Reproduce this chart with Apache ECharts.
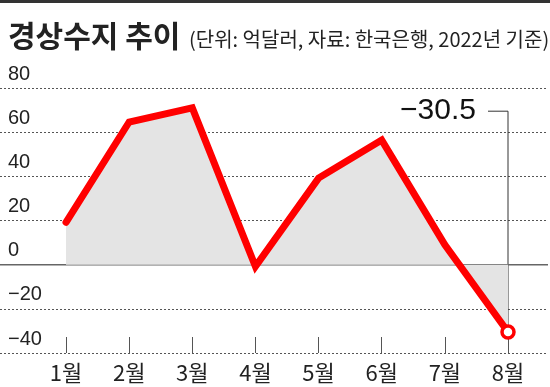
<!DOCTYPE html>
<html>
<head>
<meta charset="utf-8">
<script src="https://cdn.jsdelivr.net/npm/echarts@6/dist/echarts.min.js"></script>
<style>html,body{margin:0;padding:0;background:#fff;}#c{width:550px;height:387px;}</style>
</head>
<body>
<div id="c"></div>
<script>
const categories = ['1월','2월','3월','4월','5월','6월','7월','8월'];
const values = [19.2, 64.6, 71.0, -0.8, 39.2, 56.4, 9.0, -30.5];
const yTicks = [-40, -20, 0, 20, 40, 60, 80];
const annotationText = '−30.5';

const FONT = '"Noto Sans CJK KR", "Noto Sans", sans-serif';
const chart = echarts.init(document.getElementById('c'), null, {renderer: 'canvas'});
const gridTop = 88, gridBottom = 34;

const seriesData = values.map((v, i) => i === values.length - 1
  ? {value: v, symbol: 'circle', symbolSize: 12, itemStyle: {color: '#fff', borderColor: '#ff0000', borderWidth: 3.5}}
  : {value: v, symbol: 'none'});

chart.setOption({
  animation: false,
  backgroundColor: '#fff',
  title: [
    {text: '경상수지 추이', left: 3, top: 16, textStyle: {fontFamily: FONT, fontSize: 30, fontWeight: 'bold', color: '#222'}},
    {text: '(단위: 억달러, 자료: 한국은행, 2022년 기준)', left: 184, top: 24, textStyle: {fontFamily: FONT, fontSize: 20, fontWeight: 'normal', color: '#222'}}
  ],
  grid: [
    {left: 0, right: 2, top: gridTop, bottom: gridBottom},
    {left: 66, right: 42, top: gridTop, bottom: gridBottom}
  ],
  xAxis: [
    {gridIndex: 0, type: 'value', show: false, min: 0, max: 1},
    {gridIndex: 1, type: 'category', data: categories, boundaryGap: false,
     axisLine: {show: false, onZero: false},
     axisTick: {show: true, inside: true, length: 16, lineStyle: {color: '#555', width: 1}},
     axisLabel: {margin: 9, fontFamily: FONT, fontSize: 22, color: '#222'},
     splitLine: {show: false}}
  ],
  yAxis: [
    {gridIndex: 0, type: 'value', min: -40, max: 80, interval: 20,
     axisLine: {show: false}, axisTick: {show: false},
     axisLabel: {inside: true, margin: 8, verticalAlign: 'bottom', padding: [0,0,4,0],
       fontFamily: '"Liberation Sans", Arial, sans-serif', fontSize: 20, color: '#222',
       formatter: v => (yTicks.includes(v) ? (v < 0 ? '−' + Math.abs(v) : String(v)) : '')},
     splitLine: {show: true, lineStyle: {color: '#555', width: 1, type: [2, 2]}}},
    {gridIndex: 1, type: 'value', min: -40, max: 80, interval: 20, show: false, splitLine: {show: false}}
  ],
  series: [
    {type: 'line', xAxisIndex: 0, yAxisIndex: 0, data: [[0, 0], [1, 0]], symbol: 'none', silent: true,
     lineStyle: {color: '#666', width: 1.5}},
    {type: 'line', xAxisIndex: 1, yAxisIndex: 1, data: seriesData, symbol: 'none', z: 5,
     lineStyle: {color: '#ff0000', width: 7, join: 'miter', cap: 'round'},
     areaStyle: {color: '#e4e4e4', origin: 0, opacity: 1}}
  ]
});

function drawAnnotation() {
  const last = values.length - 1;
  const p = chart.convertToPixel({xAxisIndex: 1, yAxisIndex: 1}, [last, values[last]]);
  const topY = chart.convertToPixel({yAxisIndex: 1}, 69.5);
  chart.setOption({
    graphic: [
      {type: 'rect', left: 0, top: 0, shape: {width: 550, height: 3}, style: {fill: '#333'}},
      {type: 'polyline', z: 1, shape: {points: [[p[0] - 20, topY], [p[0], topY], [p[0], p[1] - 7]]},
       style: {stroke: '#333', lineWidth: 1, fill: null}},
      {type: 'text', x: p[0] - 32, y: topY, z: 10,
       style: {text: annotationText, fontFamily: '"Liberation Sans", Arial, sans-serif', fontSize: 30, fill: '#111',
         align: 'right', verticalAlign: 'middle'}}
    ]
  });
}
drawAnnotation();
</script>
</body>
</html>
